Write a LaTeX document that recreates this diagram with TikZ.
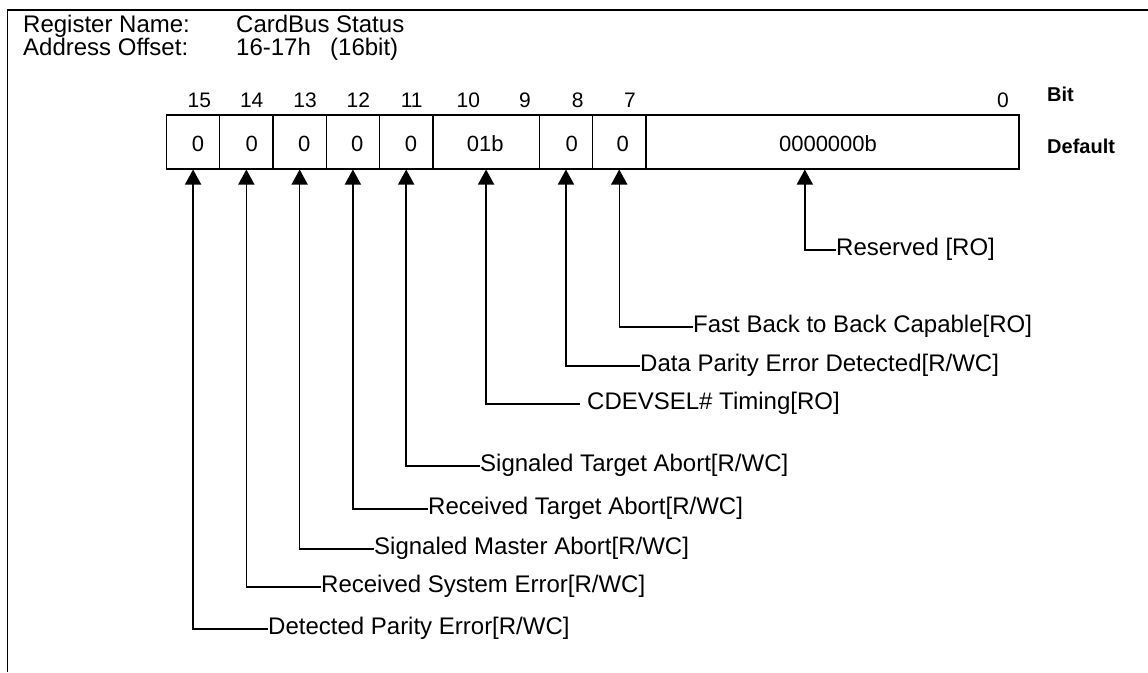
\documentclass[tikz,border=0pt]{standalone}
\usepackage{fontspec}
\setmainfont{Liberation Sans}
\usetikzlibrary{arrows.meta}

\begin{document}
\begin{tikzpicture}[x=1pt,y=-1pt,
  frame/.style={line width=1.5pt},
  cell/.style={draw, line width=1.5pt, minimum height=54pt, inner sep=0pt, anchor=north west},
  bitnum/.style={anchor=base, inner sep=0pt, font=\fontsize{21}{24}\selectfont},
  val/.style={anchor=base, inner sep=0pt, font=\fontsize{22}{26}\selectfont},
  head/.style={anchor=base west, inner sep=0pt, font=\fontsize{24}{26}\selectfont},
  side/.style={anchor=base west, inner sep=0pt, font=\fontsize{20}{24}\selectfont\bfseries},
  lbl/.style={anchor=base west, inner sep=0pt, font=\fontsize{24}{28}\selectfont},
  arr/.style={line width=1.5pt, -{Triangle[length=15pt,width=16pt]}}
]
\useasboundingbox (0,0) rectangle (1148,672);

% outer frame (top and left edges)
\draw[frame] (7.3,672) -- (7.3,10) -- (1148,10);

% header
\node[head] (hname)  at (23,32)  {Register Name:};
\node[head] (hnamev) at (236,32) {CardBus Status};
\node[head] (hoff)   at (23,55)  {Address Offset:};
\node[head] (hoffv)  at (236,55) {16-17h};
\node[head] (hbits)  at (330,55) {(16bit)};

% register cells (cell width 53.27)
\node[cell, minimum width=53.27pt]  (c15) at (165.7,114) {};
\node[cell, minimum width=53.27pt]  (c14) at (218.97,114) {};
\node[cell, minimum width=53.27pt]  (c13) at (272.24,114) {};
\node[cell, minimum width=53.27pt]  (c12) at (325.51,114) {};
\node[cell, minimum width=53.27pt]  (c11) at (378.78,114) {};
\node[cell, minimum width=106.54pt] (c10) at (432.05,114) {};
\node[cell, minimum width=53.27pt]  (c8)  at (538.59,114) {};
\node[cell, minimum width=53.27pt]  (c7)  at (591.86,114) {};
\node[cell, minimum width=372.89pt] (c0)  at (645.13,114) {};

% bit numbers
\node[bitnum] (b15) at (199.3,107.5) {15};
\node[bitnum] (b14) at (251.7,107.5) {14};
\node[bitnum] (b13) at (305,107.5)   {13};
\node[bitnum] (b12) at (358.3,107.5) {12};
\node[bitnum] (b11) at (411.7,107.5) {11};
\node[bitnum] (b10) at (468.3,107.5) {10};
\node[bitnum] (b9)  at (525,107.5)   {9};
\node[bitnum] (b8)  at (577.7,107.5) {8};
\node[bitnum] (b7)  at (630,107.5)   {7};
\node[bitnum] (b0)  at (1003,107.5)  {0};

% default values
\node[val] (v15) at (198,151)   {0};
\node[val] (v14) at (251.7,151) {0};
\node[val] (v13) at (304.3,151) {0};
\node[val] (v12) at (357.3,151) {0};
\node[val] (v11) at (411,151)   {0};
\node[val] (v10) at (485.3,151) {01b};
\node[val] (v8)  at (571.7,151) {0};
\node[val] (v7)  at (622.7,151) {0};
\node[val] (v0)  at (828,151)   {0000000b};

% row captions
\node[side] (sbit) at (1047,101.7) {Bit};
\node[side] (sdef) at (1047,153)   {Default};

% field labels
\node[lbl] (t0)  at (836,255) {Reserved [RO]};
\node[lbl] (t7)  at (693,332) {Fast Back to Back Capable[RO]};
\node[lbl] (t8)  at (640,371) {Data Parity Error Detected[R/WC]};
\node[lbl] (t10) at (587,409) {CDEVSEL\# Timing[RO]};
\node[lbl] (t11) at (480,471) {Signaled Target Abort[R/WC]};
\node[lbl] (t12) at (428,514) {Received Target Abort[R/WC]};
\node[lbl] (t13) at (374,554) {Signaled Master Abort[R/WC]};
\node[lbl] (t14) at (321,592) {Received System Error[R/WC]};
\node[lbl] (t15) at (268,634) {Detected Parity Error[R/WC]};

% leader line ends
\coordinate (k0)  at (836,250);
\coordinate (k7)  at (693,327);
\coordinate (k8)  at (640,366);
\coordinate (k10) at (580,404);
\coordinate (k11) at (480,466);
\coordinate (k12) at (428,509);
\coordinate (k13) at (374,549);
\coordinate (k14) at (321,587);
\coordinate (k15) at (268,629);

% leaders with arrows into the cells
\draw[arr] (k0)  -| ([xshift=-27.5pt]c0.south);
\draw[arr] (k7)  -| (c7.south);
\draw[arr] (k8)  -| (c8.south);
\draw[arr] (k10) -| (c10.south);
\draw[arr] (k11) -| (c11.south);
\draw[arr] (k12) -| (c12.south);
\draw[arr] (k13) -| (c13.south);
\draw[arr] (k14) -| (c14.south);
\draw[arr] (k15) -| (c15.south);
\end{tikzpicture}
\end{document}
